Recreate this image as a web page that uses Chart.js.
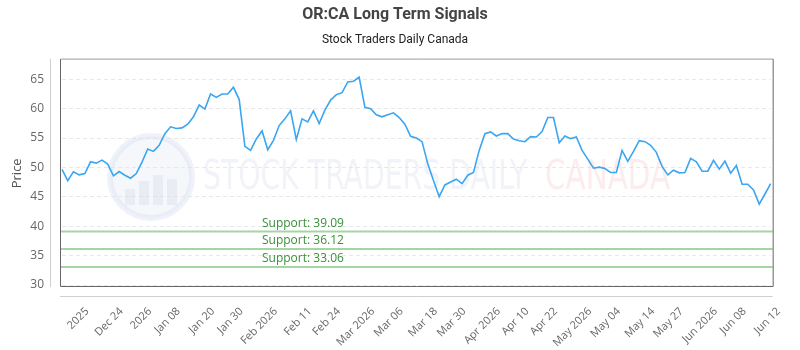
<!DOCTYPE html>
<html>
<head>
<meta charset="utf-8">
<script src="https://cdn.jsdelivr.net/npm/chart.js@4.4.1/dist/chart.umd.min.js"></script>
<style>
  html, body { margin: 0; padding: 0; background: #fff; }
  #wrap { width: 800px; height: 350px; position: relative; }
</style>
</head>
<body>
<div id="wrap"><canvas id="chart"></canvas></div>
<script>
// daily closes
const prices = [
  49.65, 47.76, 49.25, 48.73, 48.96, 50.96, 50.73, 51.24, 50.56, 48.56,
  49.30, 48.67, 48.16, 48.96, 50.90, 53.13, 52.73, 53.76, 55.75, 56.90,
  56.61, 56.72, 57.35, 58.61, 60.61, 59.92, 62.49, 61.92, 62.49, 62.49,
  63.63, 61.58, 53.58, 52.90, 54.84, 56.21, 53.01, 54.61, 57.12, 58.26,
  59.63, 54.73, 58.26, 57.75, 59.63, 57.47, 59.75, 61.46, 62.38, 62.72,
  64.54, 64.66, 65.34, 60.21, 59.98, 58.95, 58.61, 58.95, 59.29, 58.49,
  57.35, 55.30, 55.01, 54.38, 50.62, 47.76, 45.02, 47.02, 47.53, 47.99,
  47.25, 48.67, 49.13, 52.90, 55.75, 56.04, 55.35, 55.75, 55.75, 54.84,
  54.55, 54.38, 55.24, 55.18, 56.10, 58.49, 58.49, 54.21, 55.35, 54.90,
  55.18, 52.90, 51.42, 49.87, 50.05, 49.82, 49.13, 49.13, 52.90, 51.02,
  52.73, 54.55, 54.38, 53.76, 52.56, 50.16, 48.73, 49.53, 49.08, 49.13,
  51.53, 50.96, 49.36, 49.36, 51.19, 49.70, 51.07, 49.02, 50.33, 47.13,
  47.13, 46.16, 43.77, 45.48, 47.25
];
const categories = prices.map((_, i) => i);

// x axis tick labels and the point they sit on
const tickLabels = ['2025', 'Dec 24', '2026', 'Jan 08', 'Jan 20', 'Jan 30', 'Feb 2026', 'Feb 11', 'Feb 24',
  'Mar 2026', 'Mar 06', 'Mar 18', 'Mar 30', 'Apr 2026', 'Apr 10', 'Apr 22', 'May 2026', 'May 04',
  'May 14', 'May 27', 'Jun 2026', 'Jun 08', 'Jun 12'];
const tickIndex = [3, 9, 14, 19, 25, 30, 36, 42, 47, 53, 58, 64, 69, 75, 80, 85, 91, 96, 102, 107, 113, 118, 124];

const yTicks = [30, 35, 40, 45, 50, 55, 60, 65];
const supportLevels = [39.09, 36.12, 33.06];

// watermark + frame + support lines
const decorPlugin = {
  id: 'decor',
  beforeDatasetsDraw(chart) {
    const { ctx, chartArea: a } = chart;
    ctx.save();
    // logo
    const cx = 151, cy = 177, r = 41;
    ctx.beginPath();
    ctx.arc(cx, cy, r, 0, Math.PI * 2);
    ctx.fillStyle = 'rgba(225,230,242,0.3)';
    ctx.fill();
    ctx.lineWidth = 6;
    ctx.strokeStyle = 'rgba(215,222,240,0.4)';
    ctx.stroke();
    ctx.fillStyle = 'rgba(215,220,232,0.4)';
    [[-26, 16], [-12, 24], [2, 30], [16, 26]].forEach(([dx, h]) => {
      ctx.fillRect(cx + dx, cy + 28 - h, 10, h);
    });
    // text
    ctx.font = '40px "DejaVu Sans Condensed", "Roboto"';
    ctx.textBaseline = 'middle';
    ctx.textAlign = 'left';
    const t1 = 'STOCK TRADERS DAILY';
    ctx.save();
    ctx.translate(203, 179);
    ctx.scale(324 / ctx.measureText(t1).width, 1);
    ctx.fillStyle = 'rgba(215,221,234,0.35)';
    ctx.fillText(t1, 0, 0);
    ctx.restore();
    const t2 = 'CANADA';
    ctx.save();
    ctx.translate(545, 179);
    ctx.scale(125 / ctx.measureText(t2).width, 1);
    ctx.fillStyle = 'rgba(248,200,204,0.35)';
    ctx.fillText(t2, 0, 0);
    ctx.restore();

    // support lines
    const y = chart.scales.y;
    ctx.font = '12px "Open Sans"';
    ctx.textAlign = 'center';
    ctx.textBaseline = 'bottom';
    supportLevels.forEach(v => {
      const py = y.getPixelForValue(v);
      ctx.strokeStyle = '#a3d6a3';
      ctx.lineWidth = 2;
      ctx.beginPath();
      ctx.moveTo(a.left - 2, py);
      ctx.lineTo(a.right + 2, py);
      ctx.stroke();
      ctx.fillStyle = '#3a8f3a';
      ctx.fillText('Support: ' + v.toFixed(2), a.left + (a.right - a.left) * 0.34, py - 2);
    });
    ctx.restore();
  },
  afterDraw(chart) {
    const { ctx, chartArea: a } = chart;
    ctx.save();
    ctx.lineWidth = 1;
    // outer light axis lines
    ctx.strokeStyle = '#cfcfcf';
    ctx.beginPath();
    ctx.moveTo(a.left - 11.5, a.top - 3);
    ctx.lineTo(a.left - 11.5, a.bottom + 2);
    ctx.moveTo(a.left - 2, a.bottom + 11.5);
    ctx.lineTo(a.right + 2, a.bottom + 11.5);
    ctx.stroke();
    // plot frame
    ctx.strokeStyle = '#999';
    ctx.beginPath();
    ctx.moveTo(a.left - 1.5, a.top - 2.5);
    ctx.lineTo(a.right + 2.5, a.top - 2.5);
    ctx.stroke();
    ctx.strokeStyle = '#666';
    ctx.beginPath();
    ctx.moveTo(a.left - 1.5, a.top - 2.5);
    ctx.lineTo(a.left - 1.5, a.bottom + 1.5);
    ctx.lineTo(a.right + 2.5, a.bottom + 1.5);
    ctx.lineTo(a.right + 2.5, a.top - 2.5);
    ctx.stroke();
    ctx.restore();
  }
};

const ctx = document.getElementById('chart').getContext('2d');
new Chart(ctx, {
  type: 'line',
  data: {
    labels: categories,
    datasets: [{
      label: 'OR:CA',
      data: prices,
      borderColor: '#3aa6f2',
      borderWidth: 1.6,
      pointRadius: 0,
      tension: 0,
      fill: false
    }]
  },
  options: {
    responsive: true,
    maintainAspectRatio: false,
    animation: false,
    layout: { padding: { left: 0, right: 10, top: 0, bottom: 0 } },
    plugins: {
      legend: { display: false },
      tooltip: { enabled: false },
      title: {
        display: true,
        text: 'OR:CA Long Term Signals',
        color: '#444',
        font: { family: 'Roboto', size: 16, weight: 'bold' },
        padding: { top: 5, bottom: 9 }
      },
      subtitle: {
        display: true,
        text: 'Stock Traders Daily Canada',
        color: '#222',
        font: { family: 'Roboto', size: 12 },
        padding: { top: 0, bottom: 14 }
      }
    },
    scales: {
      x: {
        type: 'category',
        offset: false,
        grid: { display: false, drawTicks: false },
        border: { display: false },
        afterBuildTicks: s => { s.ticks = tickIndex.map(i => ({ value: i })); },
        afterFit: s => { s.height = 65; },
        ticks: {
          autoSkip: false,
          minRotation: 45,
          maxRotation: 45,
          padding: 20,
          labelOffset: 8,
          color: '#666',
          font: { family: 'Open Sans', size: 11 },
          callback: v => tickLabels[tickIndex.indexOf(v)]
        }
      },
      y: {
        min: 30,
        max: 68,
        afterBuildTicks: s => { s.ticks = yTicks.map(v => ({ value: v })); },
        afterFit: s => { s.width = 62; },
        grid: { color: '#e8e8e8', drawTicks: false },
        border: { display: false, dash: [4, 3] },
        title: {
          display: true,
          text: 'Price',
          color: '#555',
          font: { family: 'Open Sans', size: 13 },
          padding: { top: 9, bottom: 0 }
        },
        ticks: {
          padding: 18,
          color: '#666',
          font: { family: 'Open Sans', size: 12 }
        }
      }
    }
  },
  plugins: [decorPlugin]
});
</script>
</body>
</html>
